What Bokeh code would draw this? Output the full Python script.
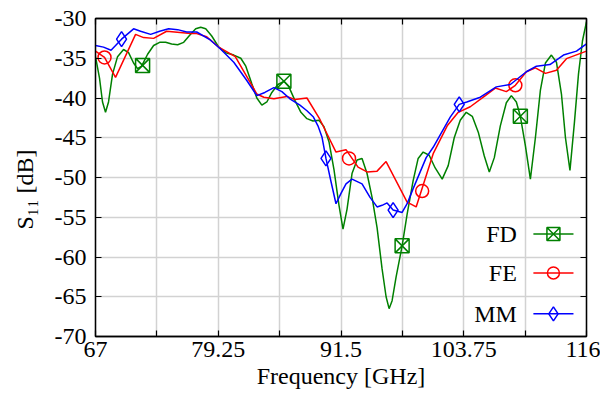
import numpy as np
from bokeh.plotting import figure
from bokeh.models import (LinearAxis, FixedTicker, Range1d, CustomJSTickFormatter)
from bokeh.core.properties import value
from bokeh.embed import file_html
from bokeh.resources import INLINE

# ---------------- data ----------------
fd_f = [67.0, 67.4, 67.7, 68.0, 68.3, 68.7, 69.2, 69.8, 70.3, 70.8, 71.2, 71.6,
        72.2, 72.8, 73.4, 74.0, 74.6, 75.2, 75.8, 76.4, 77.0, 77.5, 78.0, 78.6,
        79.3, 80.0, 80.8, 81.5, 82.0, 82.6, 83.1, 83.6, 84.1, 84.6, 85.2, 85.8,
        86.3, 86.9, 87.5, 88.1, 88.7, 89.3, 89.8, 90.3, 90.8, 91.3, 91.7, 92.1,
        92.6, 93.1, 93.6, 94.1, 94.6, 95.1, 95.6, 96.0, 96.3, 96.6, 97.0, 97.6,
        98.1, 98.7, 99.2, 99.7, 100.3, 100.9, 101.6, 102.2, 102.8, 103.4, 104.0,
        104.6, 105.2, 105.8, 106.3, 106.8, 107.4, 108.0, 108.5, 109.0, 109.4,
        109.9, 110.4, 110.9, 111.4, 111.9, 112.5, 113.0, 113.5, 113.9, 114.35,
        114.8, 115.2, 115.6, 116.0]
fd_v = [-34.8, -37.5, -40.5, -41.8, -40.5, -37.0, -34.8, -33.9, -34.3, -35.6, -36.3, -36.0,
        -34.5, -33.4, -33.0, -33.0, -33.2, -33.3, -33.0, -32.1, -31.3, -31.1, -31.3, -32.2,
        -33.6, -34.3, -34.6, -35.0, -36.0, -38.2, -40.0, -40.9, -40.5, -39.3, -38.3, -37.9,
        -38.6, -40.3, -41.8, -42.6, -42.9, -42.8, -43.6, -45.5, -49.0, -53.5, -56.5, -54.0,
        -49.5, -47.8, -47.6, -49.5, -52.5, -56.3, -61.5, -65.0, -66.5, -65.5, -62.5, -58.6,
        -54.6, -50.4, -47.6, -46.8, -47.2, -48.8, -50.2, -48.5, -45.0, -42.8, -41.8,
        -42.3, -44.3, -47.3, -49.3, -47.5, -43.5, -40.6, -39.7, -40.5, -42.3,
        -46.0, -50.2, -45.0, -39.0, -35.6, -34.6, -35.5, -39.5, -45.0, -49.1,
        -43.0, -37.0, -32.8, -30.4]

fe_f = [67.0, 67.9, 69.0, 71.0, 71.8, 72.8, 74.1, 76.5, 77.1, 78.1, 79.3, 80.95,
        83.1, 83.8, 84.8, 86.1, 86.9, 88.1, 89.4, 91.0, 92.0, 93.2, 94.1, 95.1,
        96.0, 98.1, 99.0, 100.7, 102.1, 103.2, 104.4, 105.7, 106.9, 108.0, 108.9,
        110.0, 110.9, 111.9, 113.0, 114.0, 116.0]
fe_v = [-34.1, -34.9, -37.4, -32.0, -32.4, -32.5, -31.6, -31.9, -31.9, -32.3, -33.6, -34.8,
        -39.5, -39.9, -40.1, -39.8, -40.2, -40.0, -42.7, -46.8, -46.5, -48.7, -49.3, -49.2,
        -48.0, -53.1, -53.7, -47.0, -43.5, -41.8, -41.1, -39.9, -38.75, -39.2, -38.4,
        -36.7, -36.2, -36.9, -36.5, -35.05, -34.1]

mm_f = [67.0, 67.8, 68.55, 69.6, 70.8, 71.5, 72.5, 73.4, 74.3, 75.2, 76.1, 77.1,
        78.45, 79.45, 80.8, 82.1, 83.1, 83.9, 84.8, 85.6, 86.4, 87.4, 88.1, 88.75,
        89.2, 89.6, 90.0, 90.5, 91.0, 91.5, 92.0, 92.6, 93.6, 94.4, 95.1, 95.6,
        96.1, 96.7, 97.6, 98.1, 98.7, 99.1, 100.0, 100.7, 102.4, 103.3, 104.05,
        105.4, 107.0, 108.4, 110.0, 111.0, 112.35, 113.7, 115.0, 116.0]
mm_v = [-33.4, -33.6, -34.0, -32.6, -31.3, -31.6, -32.0, -31.6, -31.3, -31.4, -31.7, -31.7,
        -32.7, -33.8, -35.5, -37.8, -39.7, -39.3, -38.7, -39.2, -40.1, -40.9, -41.6, -42.4,
        -43.5, -44.9, -47.6, -50.5, -53.3, -52.0, -50.8, -50.2, -50.8, -52.5, -53.7, -53.5,
        -53.2, -54.1, -54.4, -53.3, -51.4, -50.2, -47.5, -46.2, -42.4, -40.8, -40.5,
        -39.9, -38.6, -38.3, -36.7, -36.0, -35.8, -34.6, -34.1, -33.2]

fd_mf = [71.7, 85.8, 97.6, 109.4]
fd_mv = [-35.9, -37.9, -58.6, -42.3]
fe_mf = [67.9, 92.3, 99.6, 108.9]
fe_mv = [-34.9, -47.6, -51.7, -38.4]
mm_mf = [69.6, 90.0, 96.7, 103.3]
mm_mv = [-32.6, -47.6, -54.1, -40.8]

series_names = ["FD", "FE", "MM"]

x_ticks = [67, 73.125, 79.25, 85.375, 91.5, 97.625, 103.75, 109.875, 116]
x_labeled = [67, 79.25, 91.5, 103.75, 116]
y_ticks = [-70, -65, -60, -55, -50, -45, -40, -35, -30]

FONT = "Liberation Serif"
GREEN, RED, BLUE = "#008000", "#ff0000", "#0000ff"

p = figure(width=600, height=392, x_range=Range1d(67, 116), y_range=Range1d(-70, -30),
           output_backend="svg", toolbar_location=None,
           min_border_left=95, min_border_right=14, min_border_top=18, min_border_bottom=56,
           background_fill_color="white", border_fill_color="white")
p.outline_line_color = "black"
p.outline_line_width = 1.3

fmt = CustomJSTickFormatter(code="return tick.toString()")
blank = CustomJSTickFormatter(code="return ''")

xt = FixedTicker(ticks=x_labeled, minor_ticks=[t for t in x_ticks if t not in x_labeled])
yt = FixedTicker(ticks=y_ticks, minor_ticks=[])

for ax in p.xaxis:
    ax.ticker = xt
    ax.formatter = fmt
    ax.axis_label = "Frequency [GHz]"
for ax in p.yaxis:
    ax.ticker = yt
    ax.formatter = fmt
    ax.axis_label = "S\u2081\u2081 [dB]" + "\u00a0" * 4

def style_axis(ax):
    ax.axis_line_color = "black"
    ax.axis_line_width = 1.3
    ax.major_tick_in = 6
    ax.major_tick_out = 0
    ax.minor_tick_in = 6
    ax.minor_tick_out = 0
    ax.major_tick_line_color = "black"
    ax.minor_tick_line_color = "black"
    ax.major_tick_line_width = 1.2
    ax.minor_tick_line_width = 1.2
    ax.major_label_text_font = FONT
    ax.major_label_text_font_size = "24px"
    ax.major_label_text_color = "black"
    ax.axis_label_text_font = FONT
    ax.axis_label_text_font_size = "24px"
    ax.axis_label_text_font_style = "normal"
    ax.axis_label_text_color = "black"

for ax in p.xaxis:
    style_axis(ax)
    ax.major_label_standoff = 5
    ax.axis_label_standoff = 3
for ax in p.yaxis:
    style_axis(ax)
    ax.major_label_standoff = 9
    ax.axis_label_standoff = 14

top = LinearAxis(ticker=xt, formatter=blank)
style_axis(top)
top.major_label_text_font_size = "0px"
top.major_label_standoff = 0
right = LinearAxis(ticker=yt, formatter=blank)
style_axis(right)
right.major_label_text_font_size = "0px"
right.major_label_standoff = 0
p.add_layout(top, "above")
p.add_layout(right, "right")

p.xgrid.ticker = FixedTicker(ticks=x_ticks)
p.ygrid.ticker = FixedTicker(ticks=y_ticks)
for g in (p.xgrid[0], p.ygrid[0]):
    g.grid_line_color = "#d2d2d2"
    g.grid_line_width = 1.5

colors = [GREEN, RED, BLUE]
markers = ["square_x", "circle", "diamond"]
msizes = [14, 13, 15]

for (xf, yv, mf, mv, c, m, s) in [(fd_f, fd_v, fd_mf, fd_mv, GREEN, "square_x", 14),
                                  (fe_f, fe_v, fe_mf, fe_mv, RED, "circle", 13),
                                  (mm_f, mm_v, mm_mf, mm_mv, BLUE, "diamond", 15)]:
    p.line(xf, yv, line_color=c, line_width=1.5)
    p.scatter(mf, mv, marker=m, size=s, line_color=c, fill_alpha=0, line_width=1.5)

# ---- legend (label text to the left of the sample, as in the reference) ----
leg_rows = [-57.1, -62.0, -67.15]      # vertical position of each entry (axis units)
leg_x0, leg_x1, leg_text_x = 110.7, 114.7, 109.05
for name, row, c, m, s in zip(series_names, leg_rows, colors, markers, msizes):
    p.line([leg_x0, leg_x1], [row, row], line_color=c, line_width=1.5)
    p.scatter([(leg_x0 + leg_x1) / 2], [row], marker=m, size=s - 1, line_color=c,
              fill_alpha=0, line_width=1.5)
p.text(x=[leg_text_x] * 3, y=leg_rows, text=series_names, text_align="right",
       text_baseline="middle", text_font=value(FONT), text_font_size="24px",
       text_color="black")

open("out.html", "w").write(file_html(p, INLINE))
